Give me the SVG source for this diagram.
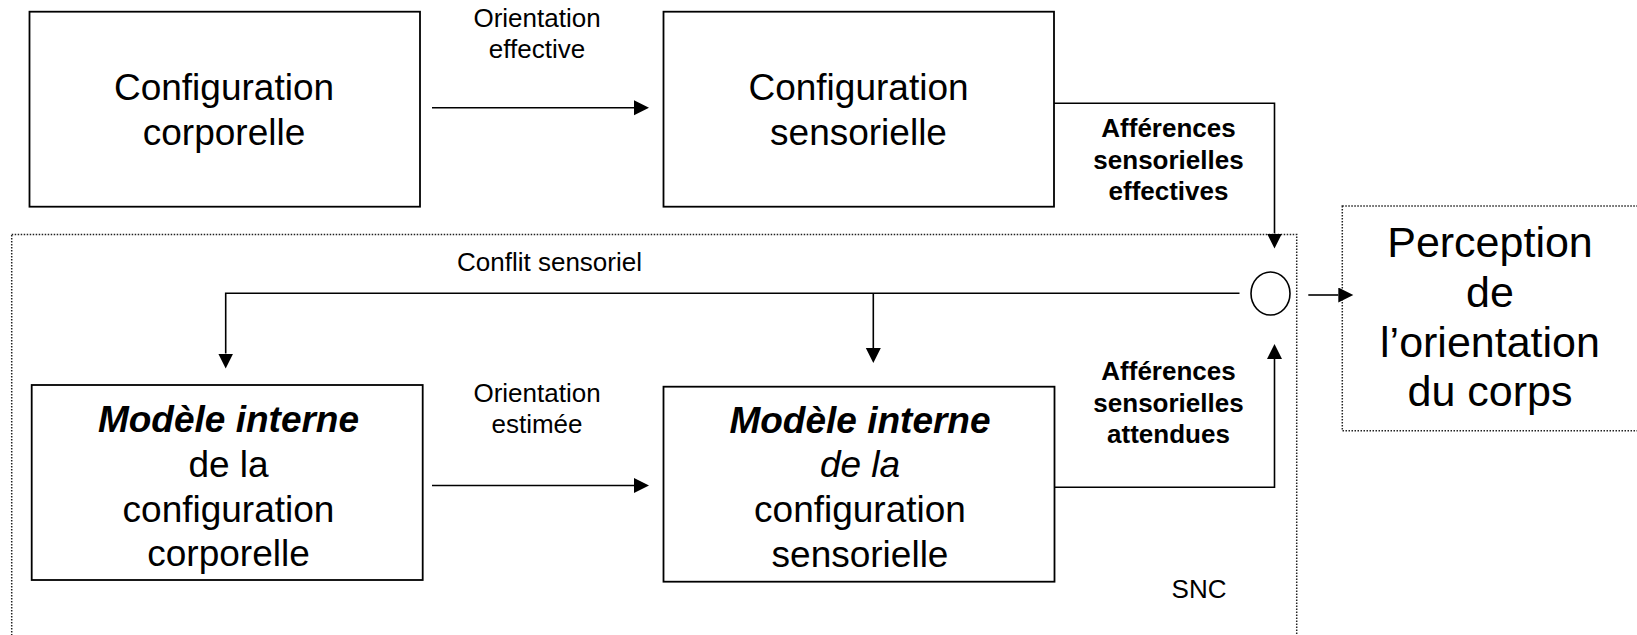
<svg xmlns="http://www.w3.org/2000/svg" width="1637" height="635" viewBox="0 0 1637 635">
  <style>
    text { font-family: "Liberation Sans", Arial, sans-serif; fill: #000; text-anchor: middle; }
    .big { font-size: 37px; }
    .per { font-size: 43px; }
    .small { font-size: 26px; }
    .bold { font-weight: bold; }
    .bi { font-weight: bold; font-style: italic; }
    .it { font-style: italic; }
    .box { fill: #fff; stroke: #000; stroke-width: 1.8; }
    .dotted { fill: none; stroke: #222; stroke-width: 1.5; stroke-dasharray: 1.5 1.5; }
    .wire { fill: none; stroke: #000; stroke-width: 1.6; }
  </style>
  <defs>
    <marker id="head" markerUnits="userSpaceOnUse" markerWidth="16" markerHeight="16" refX="0" refY="7.5" orient="auto">
      <path d="M0,0 L15,7.5 L0,15 Z" fill="#000"/>
    </marker>
  </defs>

  <rect x="0" y="0" width="1637" height="635" fill="#fff"/>

  <!-- central nervous system frame -->
  <g id="snc">
    <rect class="dotted" x="11.7" y="234.5" width="1285" height="420"/>
    <text class="small" x="1199" y="598">SNC</text>
  </g>

  <g id="config-corporelle">
    <rect class="box" x="29.5" y="11.7" width="390.5" height="195"/>
    <text class="big" x="224" y="100">Configuration</text>
    <text class="big" x="224" y="145">corporelle</text>
  </g>

  <g id="config-sensorielle">
    <rect class="box" x="663.5" y="11.7" width="390.5" height="195"/>
    <text class="big" x="858.5" y="100">Configuration</text>
    <text class="big" x="858.5" y="145">sensorielle</text>
  </g>

  <g id="modele-corporel">
    <rect class="box" x="31.7" y="385" width="391" height="195"/>
    <text class="big bi" x="228.5" y="432">Modèle interne</text>
    <text class="big" x="228.5" y="477">de la</text>
    <text class="big" x="228.5" y="521.5">configuration</text>
    <text class="big" x="228.5" y="566">corporelle</text>
  </g>

  <g id="modele-sensoriel">
    <rect class="box" x="663.5" y="386.7" width="391" height="195"/>
    <text class="big bi" x="860" y="433">Modèle interne</text>
    <text class="big it" x="860" y="477">de la</text>
    <text class="big" x="860" y="522">configuration</text>
    <text class="big" x="860" y="567">sensorielle</text>
  </g>

  <g id="comparateur">
    <ellipse cx="1270.5" cy="293.5" rx="19.5" ry="21.5" fill="#fff" stroke="#000" stroke-width="1.6"/>
  </g>

  <g id="perception">
    <rect class="dotted" x="1342.3" y="206" width="310" height="224.7"/>
    <text class="per" x="1490" y="257">Perception</text>
    <text class="per" x="1490" y="307">de</text>
    <text class="per" x="1490" y="357">l’orientation</text>
    <text class="per" x="1490" y="406">du corps</text>
  </g>

  <g id="connectors">
    <path class="wire" d="M432,107.7 H634" marker-end="url(#head)"/>
    <text class="small" x="537" y="26.7">Orientation</text>
    <text class="small" x="537" y="58.3">effective</text>

    <path class="wire" d="M432,485.5 H634" marker-end="url(#head)"/>
    <text class="small" x="537" y="401.7">Orientation</text>
    <text class="small" x="537" y="433.3">estimée</text>

    <path class="wire" d="M1054,103.3 H1274.5 V233.5" marker-end="url(#head)"/>
    <text class="small bold" x="1168.5" y="136.7">Afférences</text>
    <text class="small bold" x="1168.5" y="168.5">sensorielles</text>
    <text class="small bold" x="1168.5" y="200">effectives</text>

    <path class="wire" d="M1054,487.3 H1274.5 V359" marker-end="url(#head)"/>
    <text class="small bold" x="1168.5" y="380">Afférences</text>
    <text class="small bold" x="1168.5" y="411.7">sensorielles</text>
    <text class="small bold" x="1168.5" y="443.3">attendues</text>

    <path class="wire" d="M1239.5,293.3 H225.7 V353.5" marker-end="url(#head)"/>
    <path class="wire" d="M873.3,293.3 V348" marker-end="url(#head)"/>
    <text class="small" x="549.5" y="270.7">Conflit sensoriel</text>

    <path class="wire" d="M1308.3,295 H1338.3" marker-end="url(#head)"/>
  </g>
</svg>
